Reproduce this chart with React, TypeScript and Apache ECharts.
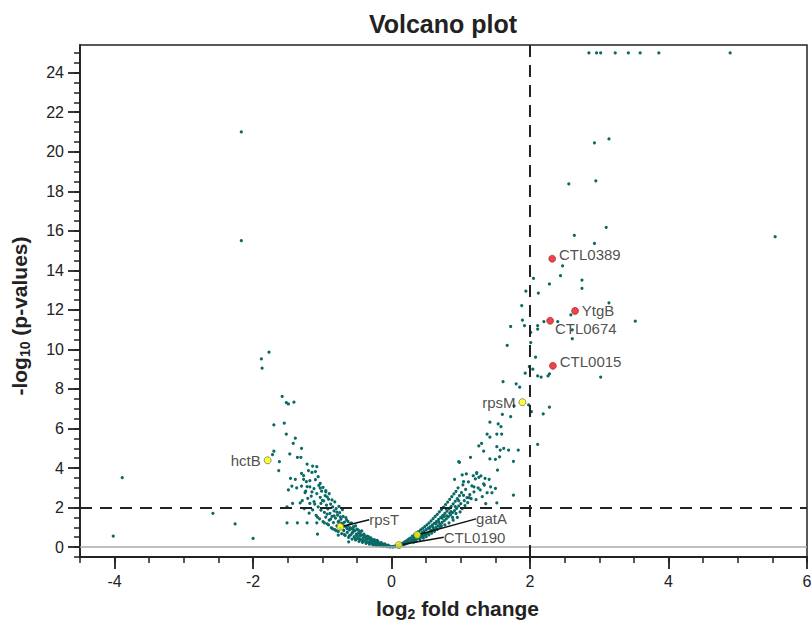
import React, { useEffect, useRef } from "react";
import * as echarts from "echarts";

// ---- axis ticks ----
const xMajorTicks = [-4, -2, 0, 2, 4, 6];
const yMajorTicks = [0, 2, 4, 6, 8, 10, 12, 14, 16, 18, 20, 22, 24];

// ---- thresholds ----
const foldChangeThreshold = 2;
const pValueThreshold = 2;

// ---- background genes: [log2 fold change, -log10 p] ----
const leftBand = [
  [-1.29, 2.35], [-1.27, 3.62], [-1.26, 1.95], [-1.24, 2.83], [-1.23, 3.31], [-1.21, 2.47], [-1.19, 1.72], [-1.18, 3.05],
  [-1.16, 2.58], [-1.15, 3.78], [-1.14, 1.88], [-1.12, 2.96], [-1.11, 2.18], [-1.1, 3.41], [-1.09, 1.61], [-1.08, 2.71],
  [-1.06, 2.04], [-1.05, 3.12], [-1.04, 1.43], [-1.03, 2.52], [-1.02, 1.87], [-1.01, 2.83], [-0.99, 1.29], [-0.98, 2.34],
  [-0.97, 1.76], [-0.96, 2.61], [-0.95, 1.52], [-0.94, 2.12], [-0.93, 1.18], [-0.92, 1.94], [-0.91, 2.43], [-0.9, 1.37],
  [-0.89, 1.71], [-0.88, 2.18], [-0.87, 0.98], [-0.86, 1.56], [-0.85, 2.04], [-0.84, 1.24], [-0.83, 1.83], [-0.82, 0.88],
  [-0.81, 1.47], [-0.8, 1.95], [-0.79, 1.08], [-0.78, 1.62], [-0.77, 0.79], [-0.76, 1.31], [-0.75, 1.74], [-0.74, 0.96],
  [-0.73, 1.42], [-0.72, 0.68], [-0.71, 1.17], [-0.7, 1.55], [-0.69, 0.84], [-0.68, 1.26], [-0.67, 0.59], [-0.66, 1.02],
  [-0.65, 1.38], [-0.64, 0.74], [-0.63, 1.09], [-0.62, 0.49], [-0.61, 0.87], [-0.6, 1.19], [-0.59, 0.62], [-0.58, 0.94],
  [-0.57, 0.41], [-0.56, 0.76], [-0.55, 1.03], [-0.54, 0.53], [-0.53, 0.82], [-0.52, 0.36], [-0.51, 0.64], [-0.5, 0.91],
  [-0.49, 0.44], [-0.48, 0.71], [-0.47, 0.29], [-0.46, 0.55], [-0.45, 0.78], [-0.44, 0.37], [-0.43, 0.6], [-0.42, 0.24],
  [-0.41, 0.47], [-0.4, 0.66], [-0.39, 0.31], [-0.38, 0.52], [-0.37, 0.19], [-0.36, 0.4], [-0.35, 0.56], [-0.34, 0.25],
  [-0.33, 0.44], [-0.32, 0.15], [-0.31, 0.33], [-0.3, 0.47], [-0.29, 0.2], [-0.28, 0.36], [-0.27, 0.11], [-0.26, 0.27],
  [-0.25, 0.38], [-0.24, 0.15], [-0.23, 0.29], [-0.22, 0.08], [-0.21, 0.21], [-0.2, 0.3], [-0.19, 0.11], [-0.18, 0.22],
  [-0.17, 0.06], [-0.16, 0.15], [-0.15, 0.23], [-0.14, 0.07], [-0.13, 0.16], [-0.12, 0.04], [-0.11, 0.1], [-0.1, 0.16],
  [-0.09, 0.05], [-0.08, 0.1], [-0.07, 0.02], [-0.06, 0.07], [-0.05, 0.1], [-0.04, 0.03], [-0.03, 0.05], [-0.02, 0.01],
  [-0.01, 0.03],
  [-1.07, 1.52], [-1.02, 2.21], [-0.99, 3.02], [-0.97, 1.23], [-0.95, 2.86], [-0.93, 1.67], [-0.91, 1.13], [-0.9, 2.71],
  [-0.88, 1.42], [-0.86, 2.39], [-0.85, 0.92], [-0.83, 1.58], [-0.82, 2.29], [-0.8, 0.83], [-0.79, 1.77], [-0.77, 1.27],
  [-0.76, 2.06], [-0.74, 1.53], [-0.72, 1.21], [-0.71, 1.89], [-0.69, 1.07], [-0.68, 0.63], [-0.66, 1.49], [-0.64, 0.93],
  [-0.63, 1.3], [-0.61, 0.58], [-0.6, 0.98], [-0.58, 1.22], [-0.57, 0.71], [-0.55, 0.88], [-0.53, 0.46], [-0.52, 1.08],
  [-0.5, 0.58], [-0.48, 0.86], [-0.46, 0.4], [-0.45, 0.64], [-0.43, 0.82], [-0.41, 0.33], [-0.39, 0.58], [-0.37, 0.42],
  [-0.35, 0.27], [-0.33, 0.52], [-0.31, 0.21], [-0.29, 0.41], [-0.27, 0.31], [-0.25, 0.13], [-0.23, 0.24], [-0.21, 0.34],
];

const rightBand = [
  [0.01, 0.02], [0.02, 0.01], [0.03, 0.04], [0.04, 0.02], [0.05, 0.05], [0.06, 0.03], [0.07, 0.07], [0.08, 0.04],
  [0.09, 0.09], [0.1, 0.05], [0.11, 0.12], [0.12, 0.07], [0.13, 0.15], [0.14, 0.09], [0.15, 0.18], [0.16, 0.11],
  [0.17, 0.22], [0.18, 0.13], [0.19, 0.26], [0.2, 0.16], [0.21, 0.3], [0.22, 0.19], [0.23, 0.35], [0.24, 0.22],
  [0.25, 0.4], [0.26, 0.25], [0.27, 0.46], [0.28, 0.28], [0.29, 0.38], [0.3, 0.55], [0.31, 0.33], [0.32, 0.47],
  [0.33, 0.62], [0.34, 0.37], [0.35, 0.52], [0.36, 0.7], [0.37, 0.42], [0.38, 0.59], [0.39, 0.78], [0.4, 0.47],
  [0.41, 0.66], [0.42, 0.87], [0.43, 0.52], [0.44, 0.73], [0.45, 0.95], [0.46, 0.58], [0.47, 0.81], [0.48, 1.04],
  [0.49, 0.64], [0.5, 0.88], [0.51, 1.13], [0.52, 0.7], [0.53, 0.96], [0.54, 1.22], [0.55, 0.77], [0.56, 1.04],
  [0.57, 1.33], [0.58, 0.84], [0.59, 1.12], [0.6, 1.44], [0.61, 0.91], [0.62, 1.21], [0.63, 1.55], [0.64, 0.99],
  [0.65, 1.3], [0.66, 1.66], [0.67, 1.07], [0.68, 1.4], [0.69, 1.78], [0.7, 1.16], [0.71, 1.5], [0.72, 1.9],
  [0.73, 1.25], [0.74, 1.6], [0.75, 2.02], [0.76, 1.34], [0.77, 1.71], [0.78, 2.15], [0.79, 1.43], [0.8, 1.82],
  [0.81, 2.28], [0.82, 1.53], [0.83, 1.94], [0.84, 2.42], [0.85, 1.63], [0.86, 2.06], [0.87, 2.55], [0.88, 1.74],
  [0.89, 2.19], [0.9, 2.69], [0.91, 1.85], [0.92, 2.32], [0.93, 2.82], [0.94, 1.96], [0.95, 2.45], [0.96, 3.0],
  [0.97, 2.08], [0.98, 2.6], [1.0, 2.2], [1.01, 2.76], [1.03, 3.15], [1.05, 2.35], [1.07, 2.92], [1.09, 2.5],
  [1.11, 3.3], [1.13, 2.65], [1.16, 3.1], [1.19, 2.8], [1.21, 3.45], [1.25, 3.0], [1.29, 3.6], [1.33, 3.2],
  [0.35, 0.29], [0.41, 0.38], [0.46, 0.45], [0.5, 0.53], [0.54, 0.62], [0.58, 0.71], [0.62, 0.8], [0.66, 0.9],
  [0.7, 1.01], [0.73, 1.46], [0.77, 1.12], [0.8, 1.58], [0.83, 1.23], [0.86, 1.8], [0.89, 1.36], [0.92, 2.05],
  [0.95, 1.5], [0.99, 1.78], [1.02, 1.95], [1.06, 2.1], [1.1, 2.25], [1.15, 2.45], [0.6, 1.0], [0.64, 1.18],
  [0.68, 1.27], [0.72, 1.08], [0.76, 1.55], [0.79, 1.95], [0.84, 1.72], [0.88, 1.5], [0.93, 1.7], [0.97, 2.35],
  [1.04, 2.62], [0.55, 0.95], [0.48, 0.7], [0.44, 0.58], [0.39, 0.5], [0.32, 0.25],
  [1.22, 2.4], [1.28, 2.9], [1.19, 3.05], [1.31, 2.55], [1.36, 2.2], [1.12, 2.5],
];

const leftSparse = [
  [-2.17, 21.0], [-2.17, 15.5], [-3.89, 3.51], [-4.02, 0.56], [-2.58, 1.71], [-2.26, 1.17], [-2.0, 0.44],
  [-1.77, 9.86], [-1.88, 9.52], [-1.87, 9.05], [-1.58, 7.62], [-1.52, 7.31], [-1.49, 7.24], [-1.41, 7.33],
  [-1.7, 6.18], [-1.55, 6.27], [-1.52, 5.72], [-1.39, 5.51], [-1.42, 5.25], [-1.3, 5.0], [-1.47, 4.71],
  [-1.36, 4.54], [-1.31, 4.54], [-1.7, 4.85], [-1.72, 4.68], [-1.62, 4.32], [-1.63, 3.87], [-1.22, 4.2],
  [-1.14, 4.1], [-1.08, 4.07], [-1.2, 3.87], [-1.1, 3.82], [-1.3, 3.73], [-1.06, 3.56], [-1.46, 3.48],
  [-1.39, 3.43], [-1.27, 3.43], [-1.18, 3.36], [-1.03, 3.23], [-1.44, 3.09], [-1.3, 3.09], [-1.22, 3.06],
  [-1.03, 2.99], [-0.95, 2.8], [-1.49, 2.89], [-1.37, 3.0], [-1.25, 2.76], [-1.15, 2.79], [-1.32, 2.24],
  [-1.43, 2.21], [-1.18, 2.21], [-1.12, 2.3], [-1.0, 2.37], [-0.93, 2.54], [-1.51, 2.04], [-1.51, 1.23],
  [-1.36, 1.23], [-1.22, 1.23], [-1.08, 1.23], [-1.07, 0.66], [-0.77, 0.61], [-0.62, 0.27],
];

const rightSparse = [
  [0.97, 4.32], [1.02, 3.65], [1.26, 5.12], [1.14, 4.54], [0.98, 4.29], [1.23, 3.77], [1.18, 3.61], [1.08, 3.71],
  [1.04, 3.31], [0.91, 3.43],
  [2.28, 13.31], [2.05, 13.6], [1.94, 12.95], [2.12, 12.85], [1.88, 12.22], [1.89, 11.48], [1.72, 11.16],
  [1.92, 11.2], [2.11, 11.2], [2.2, 11.41], [2.4, 11.41], [2.01, 10.86], [2.11, 11.03], [1.67, 10.2],
  [2.01, 10.35], [2.08, 9.61], [2.61, 10.99], [1.99, 9.13], [1.93, 8.8], [2.04, 9.0], [2.11, 8.66], [2.16, 8.6],
  [2.26, 8.66], [2.28, 8.76], [1.8, 8.26], [1.85, 8.09], [1.61, 8.37], [1.77, 7.14], [1.98, 7.19], [2.02, 6.85],
  [2.19, 6.74], [2.28, 7.08], [1.6, 6.72], [1.72, 6.6], [1.42, 6.32], [1.54, 6.23], [1.58, 6.09], [1.38, 5.71],
  [1.42, 5.56], [1.52, 5.72], [1.59, 5.72], [1.3, 5.25], [1.52, 5.08], [1.57, 4.91], [1.62, 5.0], [1.69, 4.91],
  [1.83, 4.91], [2.11, 5.2], [1.33, 4.86], [1.42, 4.46], [1.5, 4.44], [1.56, 4.57], [1.76, 4.34], [1.53, 3.9],
  [1.23, 3.73], [1.26, 3.53], [1.35, 3.48], [1.41, 3.43], [1.34, 3.14], [1.43, 3.05], [1.5, 2.97], [1.38, 2.75],
  [1.45, 2.75], [1.76, 2.63], [1.52, 2.24],
  [2.93, 20.45], [3.14, 20.65], [2.56, 18.37], [2.95, 18.53], [3.1, 16.18], [2.64, 15.77], [2.93, 15.36],
  [2.47, 14.23], [2.44, 13.73], [2.75, 13.51], [2.75, 13.09], [3.14, 12.36], [2.59, 11.75], [3.52, 11.43],
  [2.61, 10.54], [3.02, 8.6], [5.54, 15.7],
];

// genes whose p-value was capped at 25
const cappedFC = [2.85, 2.96, 3.02, 3.23, 3.42, 3.59, 3.86, 4.89];
const cappedP = 25;

// ---- highlighted genes ----
const redGenes = ["CTL0389", "YtgB", "CTL0674", "CTL0015"];
const redFC = [2.32, 2.65, 2.29, 2.33];
const redP = [14.59, 11.95, 11.45, 9.17];

const yellowGenes = ["rpsM", "hctB", "rpsT", "gatA", "CTL0190"];
const yellowFC = [1.89, -1.79, -0.74, 0.37, 0.105];
const yellowP = [7.33, 4.39, 1.03, 0.62, 0.1];

const FONT = "'Liberation Sans', Arial, Helvetica, sans-serif";
const INK = "#222";
const TEAL = "#0a6a66";

// label placement (style only)
const labelPlacement: Record<string, any> = {
  CTL0389: { position: "right", distance: 3, offset: [0, -4] },
  YtgB: { position: "right", distance: 3, offset: [0, 0] },
  CTL0674: { position: "right", distance: 3, offset: [-2, 8] },
  CTL0015: { position: "right", distance: 3, offset: [0, -4] },
  rpsM: { position: "left", distance: 3, offset: [0, 0] },
  hctB: { position: "left", distance: 3, offset: [0, 0] },
  rpsT: { position: "right", distance: 5, offset: [0, 0] },
  gatA: { position: "right", distance: 5, offset: [0, 0] },
  CTL0190: { position: "right", distance: 5, offset: [0, 0] },
};
const leaderShift: Record<string, { dx: number; dy: number }> = {
  rpsT: { dx: 20, dy: -7 },
  gatA: { dx: 50, dy: -16 },
  CTL0190: { dx: 36, dy: -8 },
};

export default function App() {
  const ref = useRef<HTMLDivElement>(null);

  useEffect(() => {
    if (!ref.current) return;
    const chart = echarts.init(ref.current, undefined, { renderer: "svg" });

    const xMinor: number[] = [];
    for (let v = -4.5; v <= 6.001; v += 0.5) xMinor.push(Math.round(v * 10) / 10);
    const yMinor: number[] = [];
    for (let v = -0.5; v <= 25.001; v += 0.5) yMinor.push(Math.round(v * 10) / 10);

    const background = [
      ...leftBand,
      ...rightBand,
      ...leftSparse,
      ...rightSparse,
      ...cappedFC.map((fc) => [fc, cappedP]),
    ];

    const labelText = { fontFamily: FONT, fontSize: 15, color: INK };

    const redData = redGenes.map((name, i) => ({
      name,
      value: [redFC[i], redP[i]],
      label: { show: true, formatter: name, ...labelText, ...labelPlacement[name] },
    }));
    const yellowData = yellowGenes.map((name, i) => ({
      name,
      value: [yellowFC[i], yellowP[i]],
      label: { show: true, formatter: name, ...labelText, ...labelPlacement[name] },
      labelLine: { show: !!leaderShift[name], lineStyle: { color: "#111", width: 1.5 } },
    }));

    const axisNameStyle = (padding: number[]) => ({
      fontFamily: FONT,
      fontSize: 21,
      fontWeight: "bold",
      color: INK,
      lineHeight: 26,
      padding,
      rich: {
        sub: { fontFamily: FONT, fontSize: 14, fontWeight: "bold", color: INK, verticalAlign: "bottom", lineHeight: 26 },
      },
    });

    const dashed = { type: [12, 8] as any, color: INK, width: 2 };

    chart.setOption({
      animation: false,
      backgroundColor: "#fff",
      title: {
        text: "Volcano plot",
        left: 438,
        textAlign: "center",
        top: 6,
        textStyle: { fontFamily: FONT, fontSize: 25, fontWeight: "bold", color: INK },
      },
      grid: {
        left: 80,
        right: 5,
        top: 45,
        bottom: 67,
        outerBoundsMode: "none",
        containLabel: false,
        show: true,
        borderColor: INK,
        borderWidth: 1.5,
        backgroundColor: "transparent",
      },
      xAxis: [
        {
          type: "value",
          min: -4.5,
          max: 6,
          position: "bottom",
          name: "log{sub|2} fold change",
          nameLocation: "middle",
          nameGap: 38,
          nameTextStyle: axisNameStyle([0, 0, 0, 28]),
          axisLine: { show: true, onZero: false, lineStyle: { color: INK, width: 1.8 } },
          axisTick: { show: true, customValues: xMajorTicks, length: 12, lineStyle: { color: INK, width: 1.8 } },
          axisLabel: { show: true, customValues: xMajorTicks, fontFamily: FONT, fontSize: 16, color: INK, margin: 16 },
          splitLine: { show: false },
        },
        {
          type: "value",
          min: -4.5,
          max: 6,
          position: "bottom",
          axisLine: { show: false, onZero: false },
          axisTick: { show: true, customValues: xMinor, length: 6, lineStyle: { color: INK, width: 1.5 } },
          axisLabel: { show: false },
          splitLine: { show: false },
        },
      ],
      yAxis: [
        {
          type: "value",
          min: -0.5,
          max: 25.4,
          position: "left",
          name: "-log{sub|10} (p-values)",
          nameLocation: "middle",
          nameGap: 48,
          nameTextStyle: axisNameStyle([0, 30, 0, 0]),
          axisLine: { show: true, onZero: false, lineStyle: { color: INK, width: 1.8 } },
          axisTick: { show: true, customValues: yMajorTicks, length: 12, lineStyle: { color: INK, width: 1.8 } },
          axisLabel: { show: true, customValues: yMajorTicks, fontFamily: FONT, fontSize: 16, color: INK, margin: 16 },
          splitLine: { show: false },
        },
        {
          type: "value",
          min: -0.5,
          max: 25.4,
          position: "left",
          axisLine: { show: false, onZero: false },
          axisTick: { show: true, customValues: yMinor, length: 6, lineStyle: { color: INK, width: 1.5 } },
          axisLabel: { show: false },
          splitLine: { show: false },
        },
      ],
      series: [
        {
          type: "scatter",
          name: "genes",
          xAxisIndex: 0,
          yAxisIndex: 0,
          symbolSize: 3.2,
          itemStyle: { color: TEAL, opacity: 1 },
          data: background,
          silent: true,
          markLine: {
            silent: true,
            symbol: "none",
            label: { show: false },
            animation: false,
            data: [
              { yAxis: 0, lineStyle: { color: "#aaa", width: 1.5, type: "solid" } },
              { yAxis: pValueThreshold, lineStyle: dashed },
              { xAxis: foldChangeThreshold, lineStyle: dashed },
            ],
          },
        },
        {
          type: "scatter",
          name: "up",
          xAxisIndex: 0,
          yAxisIndex: 0,
          symbolSize: 7,
          z: 4,
          itemStyle: { color: "#e8141b", borderColor: "#7a0a0a", borderWidth: 0.6 },
          data: redData,
        },
        {
          type: "scatter",
          name: "ref",
          xAxisIndex: 0,
          yAxisIndex: 0,
          symbolSize: 7,
          z: 4,
          itemStyle: { color: "#ffff00", borderColor: "#555", borderWidth: 0.8 },
          data: yellowData,
          labelLayout: (params: any) => {
            const name = yellowGenes[params.dataIndex];
            const s = leaderShift[name];
            return s ? { dx: s.dx, dy: s.dy } : {};
          },
        },
      ],
    });

    return () => chart.dispose();
  }, []);

  return (
    <div
      ref={ref}
      style={{ position: "fixed", left: 0, top: 0, width: 812, height: 624, background: "#fff" }}
    />
  );
}
